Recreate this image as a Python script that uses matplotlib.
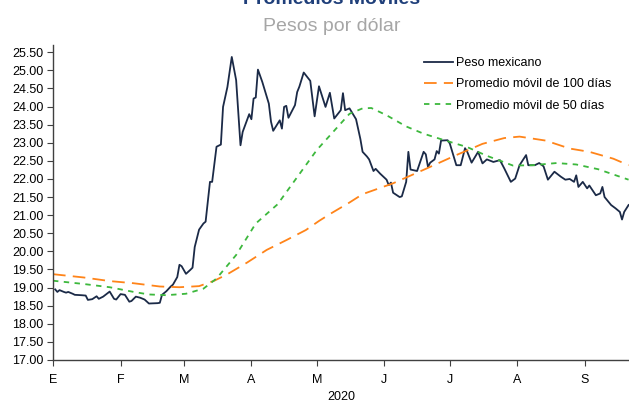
import pandas as pd
import matplotlib
matplotlib.use("Agg")
import matplotlib.pyplot as plt
import matplotlib.dates as mdates

plt.rcParams['font.family'] = ['Liberation Sans', 'DejaVu Sans']

inicio = pd.Timestamp('2020-01-01')

# tipo de cambio diario (dias contados desde el 1 de enero de 2020)
peso_dias = [1, 2, 3, 5, 6, 7, 9, 10, 13, 15,
             16, 18, 20, 21, 23, 26, 28, 29, 31, 33,
             35, 36, 38, 40, 42, 44, 48, 49, 50, 52,
             54, 55, 57, 58, 59, 61, 63, 64, 65, 67,
             69, 70, 72, 73, 75, 77, 78, 80, 82, 84,
             86, 87, 90, 91, 92, 93, 94, 96, 99, 100,
             101, 104, 105, 106, 107, 108, 111, 112, 113, 115,
             118, 120, 122, 125, 127, 129, 132, 133, 134, 136,
             139, 141, 142, 144, 145, 147, 148, 150, 153, 154,
             155, 156, 159, 160, 162, 163, 164, 167, 170, 171,
             172, 173, 175, 176, 177, 178, 181, 182, 185, 187,
             189, 190, 192, 195, 197, 199, 202, 205, 207, 210,
             212, 214, 217, 218, 221, 223, 225, 227, 230, 233,
             235, 237, 239, 240, 241, 243, 245, 246, 249, 251,
             252, 253, 256, 258, 260, 261, 262, 264]
peso = [18.95, 18.88, 18.93, 18.88, 18.86, 18.88, 18.83, 18.80, 18.79, 18.78,
        18.66, 18.68, 18.76, 18.69, 18.75, 18.89, 18.69, 18.67, 18.82, 18.80,
        18.61, 18.63, 18.75, 18.72, 18.67, 18.56, 18.57, 18.58, 18.80, 18.90,
        19.03, 19.08, 19.29, 19.63, 19.59, 19.38, 19.49, 19.55, 20.12, 20.60,
        20.77, 20.82, 21.92, 21.92, 22.89, 22.95, 23.99, 24.54, 25.37, 24.73,
        22.93, 23.30, 23.79, 23.65, 24.22, 24.25, 25.02, 24.68, 24.08, 23.58,
        23.33, 23.62, 23.39, 23.99, 24.02, 23.69, 24.04, 24.40, 24.55, 24.94,
        24.71, 23.73, 24.56, 23.99, 24.38, 23.67, 23.90, 24.37, 23.90, 23.95,
        23.65, 23.10, 22.75, 22.62, 22.54, 22.22, 22.28, 22.15, 21.98, 21.83,
        21.90, 21.62, 21.50, 21.52, 21.92, 22.75, 22.26, 22.22, 22.75, 22.68,
        22.33, 22.45, 22.54, 22.77, 22.70, 23.06, 23.07, 22.98, 22.38, 22.38,
        22.85, 22.75, 22.45, 22.75, 22.43, 22.54, 22.47, 22.52, 22.29, 21.92,
        22.01, 22.38, 22.66, 22.38, 22.38, 22.44, 22.35, 21.98, 22.20, 22.06,
        21.98, 22.00, 21.92, 22.10, 21.78, 21.92, 21.74, 21.82, 21.55, 21.60,
        21.78, 21.50, 21.28, 21.19, 21.09, 20.88, 21.09, 21.28]

# promedio movil de 100 dias
pm100_dias = [0, 14, 26, 37, 49, 58, 67, 74, 80, 89, 98, 107, 116, 122,
              127, 136, 142, 156, 171, 185, 197, 207, 214, 226, 237, 246,
              257, 264]
pm100 = [19.37, 19.28, 19.18, 19.12, 19.03, 19.01, 19.04, 19.19, 19.37,
         19.69, 20.04, 20.31, 20.59, 20.84, 21.03, 21.35, 21.58, 21.88,
         22.28, 22.66, 22.97, 23.13, 23.17, 23.06, 22.84, 22.75, 22.56,
         22.38]

# promedio movil de 50 dias
pm50_dias = [0, 14, 26, 37, 44, 52, 61, 69, 75, 84, 93, 103, 112, 121,
             130, 136, 142, 146, 153, 162, 170, 179, 190, 199, 211, 220,
             231, 240, 250, 264]
pm50 = [19.19, 19.10, 19.01, 18.88, 18.81, 18.79, 18.83, 18.97, 19.25,
        19.90, 20.77, 21.30, 22.05, 22.80, 23.40, 23.80, 23.95, 23.96,
        23.76, 23.45, 23.25, 23.08, 22.88, 22.64, 22.37, 22.38, 22.44,
        22.40, 22.27, 21.98]

meses = ['E', 'F', 'M', 'A', 'M', 'J', 'J', 'A', 'S']
yticks = [17 + 0.5 * i for i in range(18)]


def fechas(dias):
    return inicio + pd.to_timedelta(dias, unit='D')


fig = plt.figure(figsize=(6.29, 4.03), dpi=100)
ax = fig.add_axes([53 / 629, 43 / 403, 1 - 53 / 629, 315 / 403])

ax.plot(fechas(peso_dias), peso, color='#1B2A47', lw=1.3,
        label='Peso mexicano')
ax.plot(fechas(pm100_dias), pm100, color='#FF8419', lw=1.3,
        dashes=(7, 4), label='Promedio móvil de 100 días')
ax.plot(fechas(pm50_dias), pm50, color='#3DB83D', lw=1.3,
        dashes=(3, 3), label='Promedio móvil de 50 días')

ax.set_xlim(inicio, inicio + pd.Timedelta(days=264.2))
ax.set_ylim(17, 25.7)
ax.set_yticks(yticks)
ax.set_yticklabels(['%.2f' % v for v in yticks])

ax.xaxis.set_major_locator(mdates.MonthLocator())
ax.set_xticks(pd.date_range('2020-01-01', periods=9, freq='MS'))
ax.set_xticklabels(meses)
ax.set_xlabel('2020', fontsize=9, labelpad=4)

ax.tick_params(axis='both', labelsize=9, length=4, width=0.8,
               color='#404040', pad=3)
ax.tick_params(axis='x', pad=6)
for lado in ['top', 'right']:
    ax.spines[lado].set_visible(False)
for lado in ['left', 'bottom']:
    ax.spines[lado].set_color('#404040')
    ax.spines[lado].set_linewidth(1.0)

ax.legend(loc='upper left', bbox_to_anchor=(424 / 629, 1 - 57 / 403),
          bbox_transform=fig.transFigure, frameon=False, fontsize=9,
          handlelength=2.3, handletextpad=0.3, labelspacing=0.75,
          borderpad=0, borderaxespad=0)

fig.text(332 / 629, 1 - 4 / 403, 'Promedios Móviles', ha='center',
         va='baseline', fontsize=14, fontweight='bold', color='#1F3F7A')
fig.text(332 / 629, 1 - 31 / 403, 'Pesos por dólar', ha='center',
         va='baseline', fontsize=14, color='#A6A6A6')

fig.savefig('out.png', dpi=100)
